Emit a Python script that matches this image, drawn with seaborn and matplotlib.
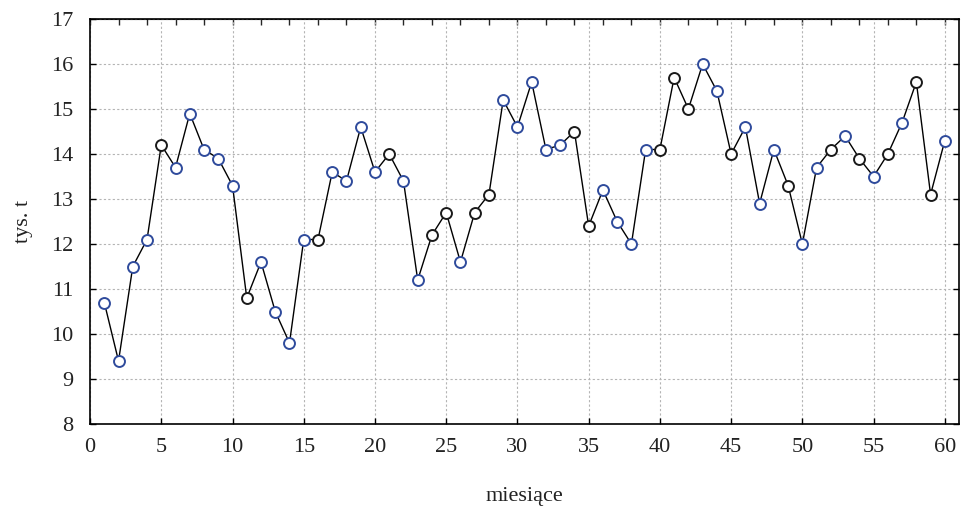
import numpy as np
import pandas as pd
import matplotlib
matplotlib.use('Agg')
import matplotlib.pyplot as plt
import seaborn as sns

# miesiące 1..60 i wartości (tys. t)
miesiace = list(range(1, 61))
wartosci = [10.7, 9.4, 11.5, 12.1, 14.2, 13.7, 14.9, 14.1, 13.9, 13.3,
             10.8, 11.6, 10.5, 9.8, 12.1, 12.1, 13.6, 13.4, 14.6, 13.6,
             14.0, 13.4, 11.2, 12.2, 12.7, 11.6, 12.7, 13.1, 15.2, 14.6,
             15.6, 14.1, 14.2, 14.5, 12.4, 13.2, 12.5, 12.0, 14.1, 14.1,
             15.7, 15.0, 16.0, 15.4, 14.0, 14.6, 12.9, 14.1, 13.3, 12.0,
             13.7, 14.1, 14.4, 13.9, 13.5, 14.0, 14.7, 15.6, 13.1, 14.3]
# grupa punktu: 'a' = niebieska obwódka, 'b' = czarna obwódka
grupa = ['a', 'a', 'a', 'a', 'b', 'a', 'a', 'a', 'a', 'a',
         'b', 'a', 'a', 'a', 'a', 'b', 'a', 'a', 'a', 'a',
         'b', 'a', 'a', 'b', 'b', 'a', 'b', 'b', 'a', 'a',
         'a', 'a', 'a', 'b', 'b', 'a', 'a', 'a', 'a', 'b',
         'b', 'b', 'a', 'a', 'b', 'a', 'a', 'a', 'b', 'a',
         'a', 'b', 'a', 'b', 'a', 'b', 'a', 'b', 'b', 'a']

df = pd.DataFrame({'miesiac': miesiace, 'wartosc': wartosci, 'grupa': grupa})

sns.set_style('white')
plt.rcParams['font.family'] = ['Liberation Serif', 'DejaVu Serif']

fig = plt.figure(figsize=(9.61, 5.07), dpi=100)
ax = fig.add_axes([0.0937, 0.1637, 0.9043, 0.7988])

sns.lineplot(data=df, x='miesiac', y='wartosc', color='black', linewidth=1.0, ax=ax, zorder=2)
kolory = {'a': '#2f4b9c', 'b': '#1a1a1a'}
for g, c in kolory.items():
    sub = df[df['grupa'] == g]
    sns.scatterplot(data=sub, x='miesiac', y='wartosc', s=62, facecolor='white',
                    edgecolor=c, linewidth=1.4, ax=ax, zorder=3)

ax.set_xlim(0, 61)
ax.set_ylim(8, 17)
ax.set_xticks(range(0, 61, 5))
ax.set_yticks(range(8, 18))
ax.grid(True, color='#b4b4b4', linestyle=(0, (2, 2)), linewidth=0.8)
ax.set_axisbelow(True)
for s in ax.spines.values():
    s.set_color('black')
    s.set_linewidth(1.2)

ax.tick_params(axis='both', direction='in', length=4, width=1, labelsize=16,
               colors='black', labelcolor='#222222', right=True, left=True, bottom=True)
ax.tick_params(axis='x', pad=10)
ax.tick_params(axis='y', pad=12)
top = ax.secondary_xaxis('top')
top.set_xticks(range(0, 61, 2))
top.tick_params(direction='in', length=4, width=1, labeltop=False)

ax.set_xlabel('miesiące', fontsize=16, labelpad=22, color='#222222')
ax.set_ylabel('tys. t', fontsize=16, labelpad=13, color='#222222')

fig.savefig('out.png', dpi=100)
